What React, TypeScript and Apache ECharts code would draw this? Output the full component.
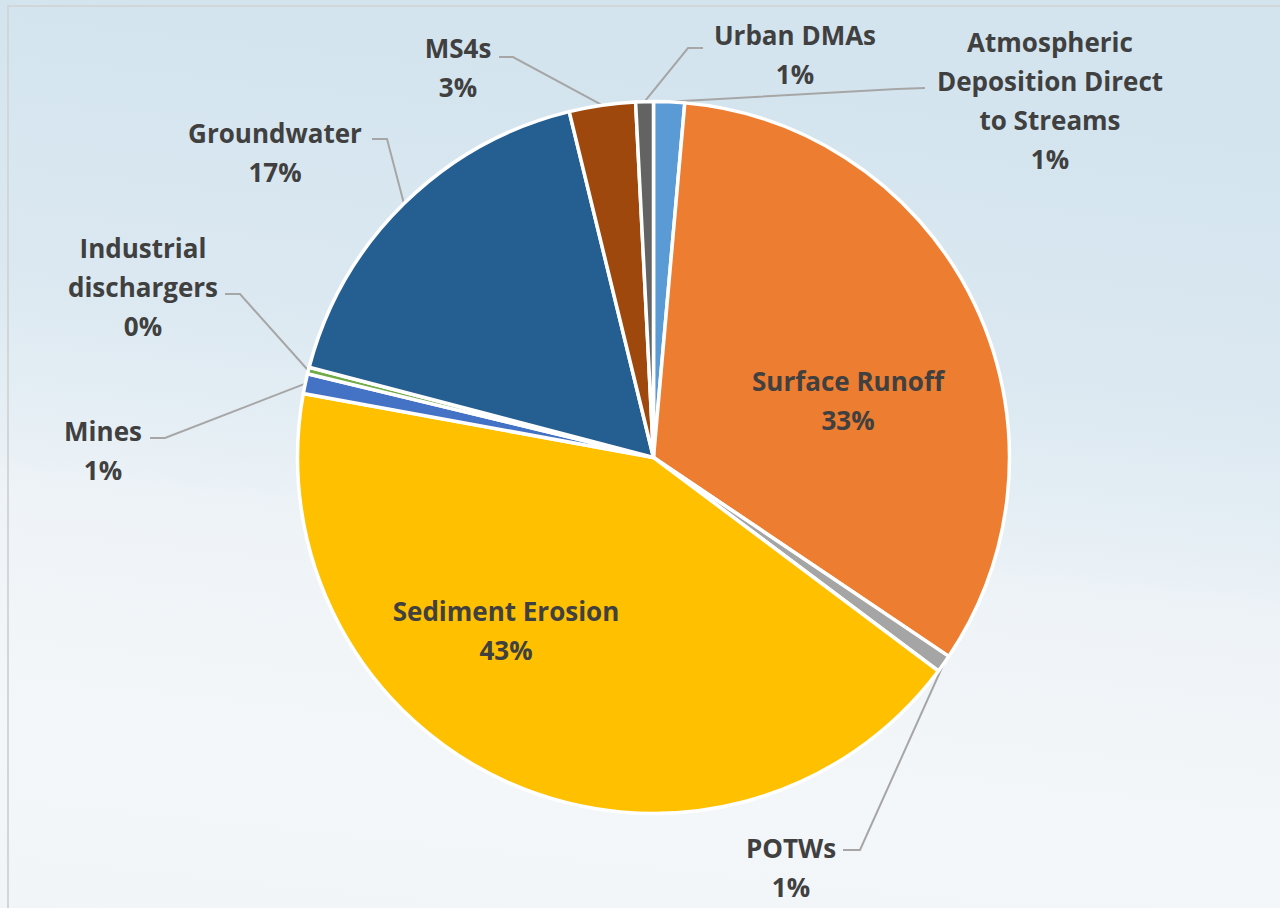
import React, { useEffect, useRef } from "react";
import * as echarts from "echarts";

// Data (clockwise from 12 o'clock)
const categories = [
  "Atmospheric\nDeposition Direct\nto Streams",
  "Surface Runoff",
  "POTWs",
  "Sediment Erosion",
  "Mines",
  "Industrial\ndischargers",
  "Groundwater",
  "MS4s",
  "Urban DMAs",
];
const shares = [1.4, 33.0, 0.8, 42.6, 0.9, 0.3, 17.1, 3.0, 0.8];
const colors = [
  "#5B9BD5",
  "#ED7D31",
  "#A5A5A5",
  "#FFC000",
  "#4472C4",
  "#70AD47",
  "#255E91",
  "#9E480E",
  "#636363",
];
const insideLabels = [false, true, false, true, false, false, false, false, false];

// Layout: label block centres and leader-line bend/end points
const labelCenters: number[][] = [
  [1050, 100],
  [848, 400],
  [791, 867],
  [506, 630],
  [103, 450],
  [143, 287],
  [275, 152],
  [458, 67],
  [795, 54],
];
const leaderBends: (number[][] | null)[] = [
  [[897, 89], [925, 88]],
  null,
  [[860, 850], [843, 850]],
  null,
  [[165, 438], [150, 438]],
  [[240, 294], [225, 294]],
  [[387, 139], [372, 139]],
  [[513, 57], [499, 57]],
  [[688, 48], [703, 48]],
];

export default function App() {
  const ref = useRef<HTMLDivElement>(null);
  useEffect(() => {
    if (!ref.current) return;
    const chart = echarts.init(ref.current, undefined, { renderer: "svg" });
    const data = categories.map((name, i) => ({
      name,
      value: shares[i],
      itemStyle: { color: colors[i] },
      label: insideLabels[i] ? { position: "inside" } : { position: "outside" },
      labelLine: { show: !insideLabels[i] },
    }));
    chart.setOption({
      animation: false,
      backgroundColor: {
        type: "linear",
        x: 0.15,
        y: 0,
        x2: 0,
        y2: 1,
        colorStops: [
          { offset: 0, color: "#d3e4ee" },
          { offset: 0.3, color: "#dbe8f1" },
          { offset: 0.45, color: "#e4eef4" },
          { offset: 0.55, color: "#eef3f7" },
          { offset: 0.8, color: "#f4f7f9" },
          { offset: 1, color: "#f1f5f8" },
        ],
      },
      graphic: [
        {
          type: "rect",
          shape: { x: 8, y: 6, width: 1400, height: 1000 },
          style: { fill: "none", stroke: "#d2d6d9", lineWidth: 2 },
          silent: true,
        },
      ],
      series: [
        {
          type: "pie",
          center: [653.5, 457.5],
          radius: 356,
          startAngle: 90,
          clockwise: true,
          avoidLabelOverlap: false,
          itemStyle: { borderColor: "#ffffff", borderWidth: 3.5 },
          label: {
            show: true,
            formatter: (p: any) => `${p.name}\n${Math.round(p.percent)}%`,
            fontFamily: "Open Sans",
            fontWeight: "bold",
            fontSize: 26,
            lineHeight: 39,
            color: "#404040",
            align: "center",
          },
          labelLine: {
            show: true,
            lineStyle: { color: "#a6a6a6", width: 2 },
          },
          labelLayout: (params: any) => {
            const i = params.dataIndex;
            const c = labelCenters[i];
            const res: any = { x: c[0], y: c[1], align: "center", verticalAlign: "middle" };
            const bend = leaderBends[i];
            if (bend && params.labelLinePoints) {
              res.labelLinePoints = [params.labelLinePoints[0], bend[0], bend[1]];
            }
            return res;
          },
          data,
        },
      ],
    });
    return () => chart.dispose();
  }, []);
  return (
    <div
      ref={ref}
      style={{ position: "absolute", left: 0, top: 0, width: 1280, height: 908 }}
    />
  );
}
